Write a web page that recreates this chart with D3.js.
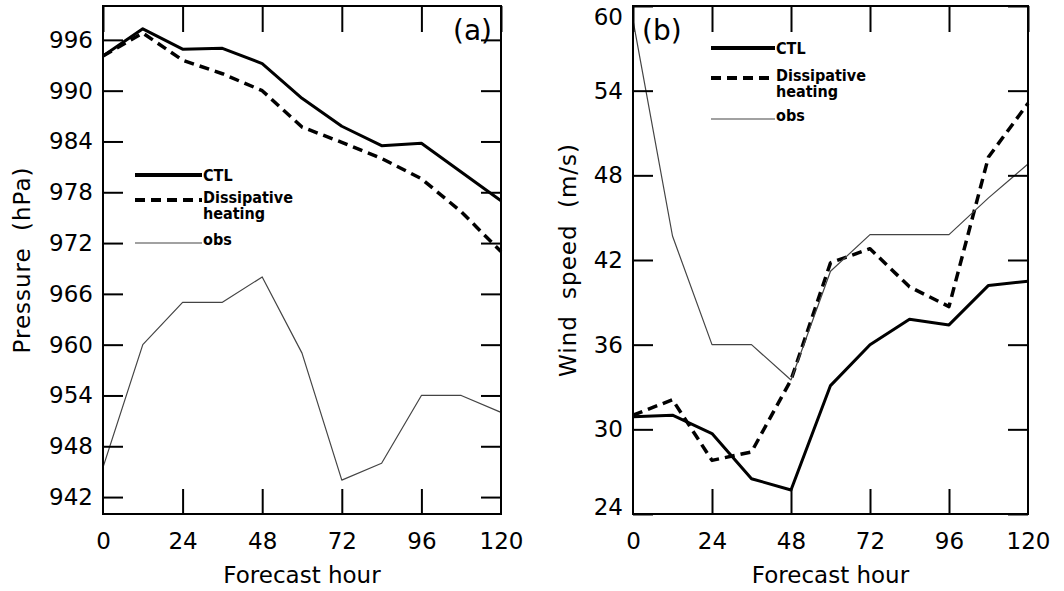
<!DOCTYPE html>
<html>
<head>
<meta charset="utf-8">
<script src="https://cdn.jsdelivr.net/npm/d3@7"></script>
<style>
  body { margin: 0; background: #fff; }
  svg { display: block; }
  .tick text { font-family: "DejaVu Sans", sans-serif; font-size: 23px; fill: #000; }
  .tick line { stroke: #000; stroke-width: 2; }
  .title { font-family: "DejaVu Sans", sans-serif; font-size: 23px; fill: #000; }
  .leg { font-family: "DejaVu Sans Condensed", "DejaVu Sans", sans-serif; font-stretch: condensed; font-weight: bold; font-size: 16px; fill: #000; }
</style>
</head>
<body>
<div id="chart"></div>
<script>
const width = 1064, height = 591;

// forecast hours
const hours = [0, 12, 24, 36, 48, 60, 72, 84, 96, 108, 120];
const hourTicks = [0, 24, 48, 72, 96, 120];

// (a) minimum sea level pressure, hPa
const pressCTL = [994.1, 997.3, 994.9, 995.0, 993.2, 989.1, 985.8, 983.5, 983.8, 980.4, 977.0];
const pressDH  = [994.1, 996.8, 993.6, 992.0, 990.0, 985.7, 983.9, 982.0, 979.6, 975.7, 971.0];
const pressObs = [945.5, 960.0, 965.0, 965.0, 968.0, 959.0, 944.0, 946.0, 954.0, 954.0, 952.0];
const pressTicks = [942, 948, 954, 960, 966, 972, 978, 984, 990, 996];

// (b) maximum wind speed, m/s
const windCTL = [30.9, 31.0, 29.7, 26.5, 25.7, 33.1, 36.0, 37.8, 37.4, 40.2, 40.5];
const windDH  = [31.0, 32.1, 27.8, 28.4, 33.5, 41.8, 42.8, 40.1, 38.7, 49.3, 53.1];
const windObs = [59.0, 43.7, 36.0, 36.0, 33.5, 41.2, 43.8, 43.8, 43.8, 46.4, 48.8];
const windTicks = [24, 30, 36, 42, 48, 54, 60];

// legend entries, second one wraps onto two lines
const legendNames = [['CTL'], ['Dissipative', 'heating'], ['obs']];

const svg = d3.select('#chart').append('svg')
    .attr('width', width)
    .attr('height', height);

const styles = [
    { width: 3, dash: null, color: '#000' },
    { width: 3.5, dash: '10,6', color: '#000' },
    { width: 1.2, dash: null, color: '#444' }
];

function drawPanel(p) {
    const x = d3.scaleLinear().domain([0, 120]).range([p.left, p.right]);
    const y = d3.scaleLinear().domain(p.domain).range([p.bottom, p.top]);
    const g = svg.append('g');

    // series
    const line = d3.line().x((d, i) => x(hours[i])).y(d => y(d));
    [p.ctl, p.dh, p.obs].forEach((s, k) => {
        g.append('path')
            .datum(s)
            .attr('d', line)
            .attr('fill', 'none')
            .attr('stroke', styles[k].color)
            .attr('stroke-width', styles[k].width)
            .attr('stroke-dasharray', styles[k].dash)
            .attr('stroke-linejoin', 'round');
    });

    // bottom axis
    const xb = g.append('g')
        .attr('transform', `translate(0,${p.bottom})`)
        .call(d3.axisBottom(x).tickValues(hourTicks).tickSizeInner(-25).tickSizeOuter(0).tickPadding(19));
    // top axis
    const xt = g.append('g')
        .attr('transform', `translate(0,${p.top})`)
        .call(d3.axisTop(x).tickValues(hourTicks).tickSizeInner(-26).tickSizeOuter(0).tickFormat(''));
    // left axis
    const yl = g.append('g')
        .attr('transform', `translate(${p.left},0)`)
        .call(d3.axisLeft(y).tickValues(p.ticks).tickSizeInner(-20).tickSizeOuter(0).tickPadding(10));
    // right axis
    const yr = g.append('g')
        .attr('transform', `translate(${p.right},0)`)
        .call(d3.axisRight(y).tickValues(p.ticks).tickSizeInner(-20).tickSizeOuter(0).tickFormat(''));
    [xb, xt, yl, yr].forEach(a => a.select('.domain').remove());
    xb.selectAll('.tick').filter(d => d === 0 || d === 120).select('line').remove();

    // keep end labels inside the frame
    yl.selectAll('.tick text')
        .attr('dy', d => d === p.domain[1] ? '0.8em' : d === p.domain[0] ? '0' : '0.32em');

    // frame
    g.append('rect')
        .attr('x', p.left).attr('y', p.top)
        .attr('width', p.right - p.left).attr('height', p.bottom - p.top)
        .attr('fill', 'none').attr('stroke', '#000').attr('stroke-width', 2);

    // axis titles
    g.append('text').attr('class', 'title')
        .attr('x', (p.left + p.right) / 2).attr('y', 583)
        .attr('text-anchor', 'middle')
        .text('Forecast hour');
    g.append('text').attr('class', 'title')
        .attr('transform', `translate(${p.titleX},${(p.top + p.bottom) / 2}) rotate(-90)`)
        .attr('text-anchor', 'middle')
        .style('letter-spacing', '1px')
        .style('word-spacing', '8px')
        .text(p.ylabel);

    // panel label
    g.append('text').attr('class', 'title')
        .attr('x', p.tagX).attr('y', 40)
        .style('font-size', '28px')
        .text(p.tag);

    // legend
    const lg = g.append('g');
    p.legY.forEach((ly, k) => {
        lg.append('line')
            .attr('x1', p.legX).attr('x2', p.legX + p.legLen)
            .attr('y1', ly).attr('y2', ly)
            .attr('stroke', styles[k].color)
            .attr('stroke-width', k === 2 ? 1.2 : 4)
            .attr('stroke-dasharray', styles[k].dash);
        const t = lg.append('text').attr('class', 'leg')
            .attr('x', p.legX + p.legLen + 1)
            .attr('y', ly + (k === 0 ? 6 : k === 1 ? 3 : 2));
        legendNames[k].forEach((s, j) => {
            t.append('tspan')
                .attr('x', p.legX + p.legLen + 1)
                .attr('dy', j === 0 ? 0 : 16)
                .text(s);
        });
    });
}

drawPanel({
    left: 103, right: 501, top: 6, bottom: 514,
    domain: [940, 1000], ticks: pressTicks,
    ctl: pressCTL, dh: pressDH, obs: pressObs,
    ylabel: 'Pressure (hPa)', titleX: 30,
    tag: '(a)', tagX: 453,
    legX: 135, legLen: 67, legY: [175, 200, 243]
});

drawPanel({
    left: 633, right: 1028, top: 6, bottom: 514,
    domain: [24, 60], ticks: windTicks,
    ctl: windCTL, dh: windDH, obs: windObs,
    ylabel: 'Wind speed (m/s)', titleX: 576,
    tag: '(b)', tagX: 642,
    legX: 711, legLen: 64, legY: [48, 78, 119]
});
</script>
</body>
</html>
